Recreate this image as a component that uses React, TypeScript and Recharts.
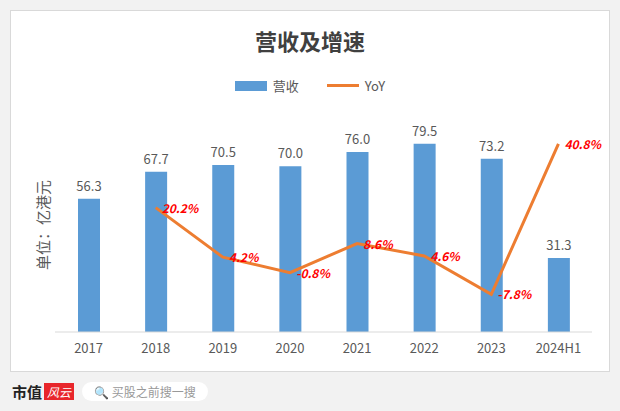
import React from 'react'
import { ComposedChart, Bar, Line, XAxis, YAxis, LabelList } from 'recharts'

const years = ['2017', '2018', '2019', '2020', '2021', '2022', '2023', '2024H1']
const revenue = [56.3, 67.7, 70.5, 70.0, 76.0, 79.5, 73.2, 31.3]
const yoy = [null, 20.2, 4.2, -0.8, 8.6, 4.6, -7.8, 40.8]

const data = years.map((y, i) => ({ year: y, rev: revenue[i], yoy: yoy[i] }))

const YoyLabel = (props: any) => {
  const { x, y, value } = props
  if (value == null) return null
  return (
    <text x={x + 6} y={y + 5} fill="#FF0000" fontSize={12} fontWeight="bold" fontStyle="italic" textAnchor="start">
      {value.toFixed(1)}%
    </text>
  )
}

export default function App() {
  return (
    <div style={{ position: 'fixed', left: 0, top: 0, width: 620, height: 411, background: '#f2f2f2', fontFamily: '"Microsoft YaHei", "Noto Sans CJK SC", sans-serif' }}>
      <div style={{ position: 'absolute', left: 10, top: 10, width: 598, height: 360, background: '#fff', border: '1px solid #d9d9d9' }} />
      <div style={{ position: 'absolute', left: 0, top: 24, width: 620, textAlign: 'center', fontSize: 22, fontWeight: 'bold', color: '#404040' }}>营收及增速</div>
      <div style={{ position: 'absolute', left: 0, top: 76, width: 620, display: 'flex', justifyContent: 'center', alignItems: 'center', fontSize: 13, color: '#595959' }}>
        <span style={{ display: 'inline-block', width: 32, height: 10, background: '#5B9BD5', marginRight: 6 }} />
        <span style={{ marginRight: 28 }}>营收</span>
        <span style={{ display: 'inline-block', width: 32, height: 3, background: '#ED7D31', marginRight: 6 }} />
        <span>YoY</span>
      </div>
      <div style={{ position: 'absolute', left: 30, top: 225, transform: 'translate(-50%,-50%) rotate(-90deg)', transformOrigin: 'center', marginLeft: 12, fontSize: 15, color: '#595959', whiteSpace: 'nowrap' }}>单位：亿港元</div>
      <div style={{ position: 'absolute', left: 0, top: 0 }}>
        <ComposedChart width={620} height={362} data={data} margin={{ top: 100, right: 28, bottom: 0, left: 55 }}>
          <XAxis dataKey="year" axisLine={{ stroke: '#d9d9d9' }} tickLine={false} tick={{ fill: '#595959', fontSize: 13 }} height={30} tickMargin={6} />
          <YAxis yAxisId="l" domain={[0, 98]} hide />
          <YAxis yAxisId="r" orientation="right" domain={[-20, 55]} hide />
          <Bar yAxisId="l" dataKey="rev" fill="#5B9BD5" barSize={22} isAnimationActive={false}>
            <LabelList dataKey="rev" position="top" offset={8} fill="#595959" fontSize={13} formatter={(v: any) => Number(v).toFixed(1)} />
          </Bar>
          <Line yAxisId="r" dataKey="yoy" stroke="#ED7D31" strokeWidth={3} dot={false} connectNulls isAnimationActive={false}>
            <LabelList dataKey="yoy" content={<YoyLabel />} />
          </Line>
        </ComposedChart>
      </div>
      <div style={{ position: 'absolute', left: 12, top: 381, display: 'flex', alignItems: 'center' }}>
        <span style={{ fontSize: 15, fontWeight: 'bold', color: '#222' }}>市值</span>
        <span style={{ background: '#e8262b', color: '#fff', fontSize: 12, fontStyle: 'italic', padding: '0 3px', marginLeft: 2 }}>风云</span>
        <span style={{ marginLeft: 8, background: '#fff', borderRadius: 10, padding: '1px 12px', fontSize: 12, color: '#999' }}>🔍 买股之前搜一搜</span>
      </div>
    </div>
  )
}
